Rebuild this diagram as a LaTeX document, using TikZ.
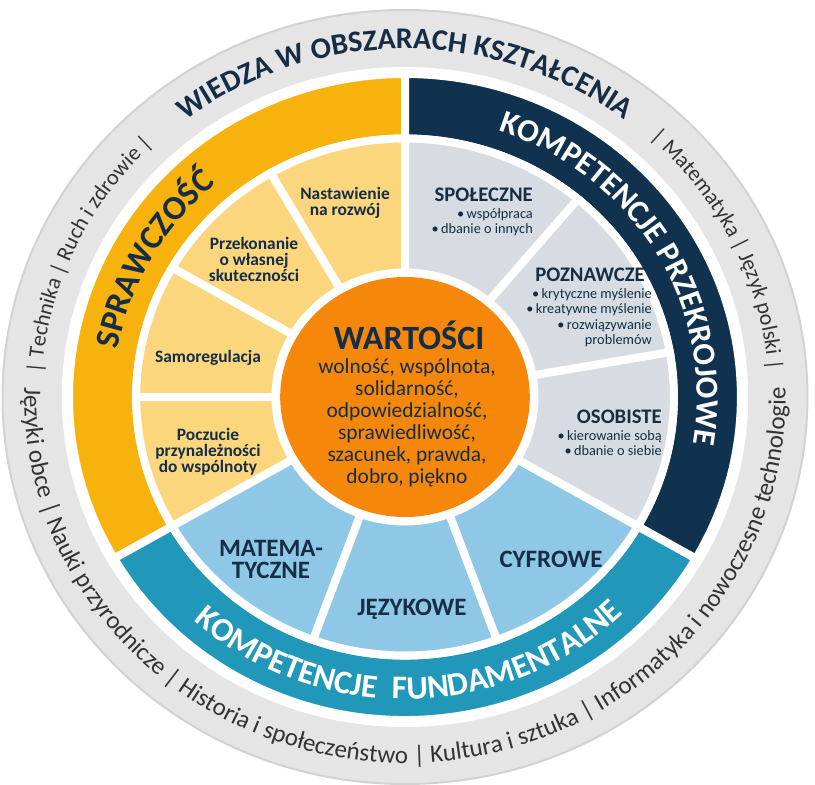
\documentclass[tikz,border=0pt]{standalone}
\usepackage{fontspec}
\setmainfont{Carlito}
\usetikzlibrary{positioning, decorations.text}

\definecolor{ringgray}{HTML}{E5E5E5}
\definecolor{ringedge}{HTML}{D2D2D2}
\definecolor{ringtext}{HTML}{333333}
\definecolor{navytext}{HTML}{162D46}
\definecolor{bandyellow}{HTML}{F8B20E}
\definecolor{segyellow}{HTML}{FCD67D}
\definecolor{bandnavy}{HTML}{10324F}
\definecolor{seggray}{HTML}{D6DCE2}
\definecolor{bandteal}{HTML}{2198B9}
\definecolor{segblue}{HTML}{8EC8E6}
\definecolor{valorange}{HTML}{F5870A}

\begin{document}
\begin{tikzpicture}[
  x=1pt, y=1pt,
  part/.style={draw=white, line width=8pt},
  softlabel/.style={font=\bfseries\fontsize{17.4}{16}\selectfont, text=navytext, align=center, inner sep=0pt},
  crosshead/.style={font=\bfseries\fontsize{20.7}{20}\selectfont, text=navytext, inner sep=0pt},
  crossitem/.style={font=\fontsize{14.3}{15.5}\selectfont, text=navytext, align=right, inner sep=0pt},
  basiclabel/.style={font=\bfseries\fontsize{25}{22}\selectfont, text=navytext, align=center, inner sep=0pt}
]
\useasboundingbox (0,0) rectangle (815,-785);

% Wheel (centre at (405,-397))
\begin{scope}[shift={(405,-397)}, xscale=1.04]
\filldraw[fill=ringgray, draw=ringedge, line width=2pt] (0,0) circle[radius=387];
\fill[white] (0,0) circle[radius=330];

% Outer bands
\foreach \from/\to/\col in {90/210/bandyellow, 210/330/bandteal, -30/90/bandnavy}
  \filldraw[part, fill=\col] (\from:258.5) arc[start angle=\from, end angle=\to, radius=258.5]
    -- (\to:323) arc[start angle=\to, end angle=\from, radius=323] -- cycle;

% Inner sectors
\foreach \from [evaluate=\from as \to using \from+30] in {90,120,150,180}
  \filldraw[part, fill=segyellow] (\from:124.5) arc[start angle=\from, end angle=\to, radius=124.5]
    -- (\to:258.5) arc[start angle=\to, end angle=\from, radius=258.5] -- cycle;
\foreach \from [evaluate=\from as \to using \from+40] in {210,250,290}
  \filldraw[part, fill=segblue] (\from:124.5) arc[start angle=\from, end angle=\to, radius=124.5]
    -- (\to:258.5) arc[start angle=\to, end angle=\from, radius=258.5] -- cycle;
\foreach \from [evaluate=\from as \to using \from+40] in {-30,10,50}
  \filldraw[part, fill=seggray] (\from:124.5) arc[start angle=\from, end angle=\to, radius=124.5]
    -- (\to:258.5) arc[start angle=\to, end angle=\from, radius=258.5] -- cycle;

% Core
\fill[valorange] (0,0) circle[radius=120];

% Lettering on the grey ring
\path[decorate, decoration={text along path, text align=center,
  text={|\fontsize{22}{22}\selectfont\color{ringtext}|{\textbar} Technika {\textbar} Ruch i zdrowie {\textbar}}}]
  (215.5:350) arc[start angle=215.5, end angle=95.5, radius=350];
\path[decorate, decoration={text along path, text align=center,
  text={|\fontsize{30}{30}\selectfont\bfseries\color{navytext}|WIEDZA W OBSZARACH KSZTAŁCENIA}}]
  (160:348) arc[start angle=160, end angle=20, radius=348];
\path[decorate, decoration={text along path, text align=center,
  text={|\fontsize{22}{22}\selectfont\color{ringtext}|{\textbar} Matematyka {\textbar} Język polski {\textbar}}}]
  (85.5:350) arc[start angle=85.5, end angle=-34.5, radius=350];
\path[decorate, decoration={text along path, text align=center,
  text={|\fontsize{25}{25}\selectfont\color{ringtext}|Języki obce {\textbar} Nauki przyrodnicze {\textbar} Historia i społeczeństwo {\textbar} Kultura i sztuka {\textbar} Informatyka i nowoczesne technologie}}]
  (165:366) arc[start angle=165, end angle=375, radius=366];

% Lettering on the bands
\path[decorate, decoration={text along path, text align=center,
  text={|\fontsize{34}{34}\selectfont\bfseries\color{navytext}|SPRAWCZOŚĆ}}]
  (211:280) arc[start angle=211, end angle=91, radius=280];
\path[decorate, decoration={text along path, text align=center,
  text={|\fontsize{32}{32}\selectfont\bfseries\color{white}|KOMPETENCJE PRZEKROJOWE}}]
  (100:281) arc[start angle=100, end angle=-39, radius=281];
\path[decorate, decoration={text along path, text align=center,
  text={|\fontsize{33}{33}\selectfont\bfseries\color{white}|KOMPETENCJE {\ }FUNDAMENTALNE}}]
  (200:302) arc[start angle=200, end angle=342, radius=302];
\end{scope}

% Sprawczość sectors
\node[softlabel] (nastawienie) at (345,-203) {Nastawienie\\na rozwój};
\node[softlabel] (przekonanie) at (254,-259) {Przekonanie\\o własnej\\skuteczności};
\node[softlabel] (samoregulacja) at (208,-358) {Samoregulacja};
\node[softlabel] (poczucie) at (208,-452) {Poczucie\\przynależności\\do wspólnoty};

% Kompetencje przekrojowe
\node[crosshead, anchor=east] (spoleczne) at (533,-195) {SPOŁECZNE};
\node[crossitem, below left=6pt and 0pt of spoleczne.south east] (spolitems) {•\,współpraca\\•\,dbanie o innych};
\node[crosshead, anchor=east] (poznawcze) at (645,-275) {POZNAWCZE};
\node[crossitem, below left=6pt and -7pt of poznawcze.south east] (poznitems) {•\,krytyczne myślenie\\•\,kreatywne myślenie\\•\,rozwiązywanie\\problemów};
\node[crosshead, anchor=east] (osobiste) at (662,-417) {OSOBISTE};
\node[crossitem, below left=6pt and 0pt of osobiste.south east] (osobitems) {•\,kierowanie sobą\\•\,dbanie o siebie};

% Kompetencje fundamentalne
\node[basiclabel] (matematyczne) at (271,-559) {MATEMA-\\TYCZNE};
\node[basiclabel] (jezykowe) at (412,-609) {JĘZYKOWE};
\node[basiclabel] (cyfrowe) at (551,-559) {CYFROWE};

% Wartości
\node[font=\bfseries\fontsize{34}{34}\selectfont, text=navytext, inner sep=0pt] (wartosci) at (409,-335) {WARTOŚCI};
\node[font=\fontsize{21.4}{22}\selectfont, text=navytext, align=center, inner sep=0pt] (values) at (407,-423)
  {wolność, wspólnota,\\solidarność,\\odpowiedzialność,\\sprawiedliwość,\\szacunek, prawda,\\dobro, piękno};

\end{tikzpicture}
\end{document}
